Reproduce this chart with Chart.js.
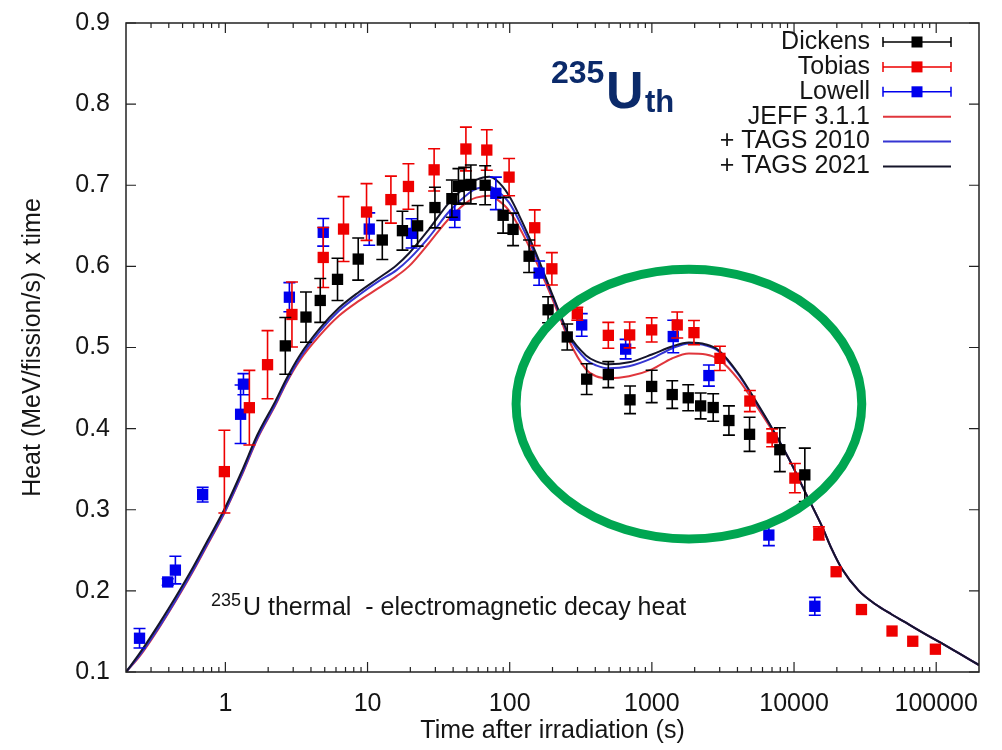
<!DOCTYPE html>
<html>
<head>
<meta charset="utf-8">
<script src="https://cdn.jsdelivr.net/npm/chart.js@4.4.0/dist/chart.umd.min.js"></script>
<style>
  html, body { margin: 0; padding: 0; background: #ffffff; }
  #wrap { width: 1002px; height: 750px; }
</style>
</head>
<body>
<div id="wrap"><canvas id="c" width="1002" height="750"></canvas></div>
<script>
// ---------------- DATA ----------------
const xTickValues = [1, 10, 100, 1000, 10000, 100000];
const xTickLabels = ['1', '10', '100', '1000', '10000', '100000'];
const yTickValues = [0.1, 0.2, 0.3, 0.4, 0.5, 0.6, 0.7, 0.8, 0.9];
const yTickLabels = ['0.1', '0.2', '0.3', '0.4', '0.5', '0.6', '0.7', '0.8', '0.9'];

// Dickens (black squares)
const dickensX = [2.64, 3.69, 4.65, 6.15, 8.6, 12.7, 17.6, 22.5, 29.8, 39.2, 43.6, 47.8, 53.3, 67.2, 89.9, 105.6, 136.9, 186.2, 254, 348, 494, 702, 997, 1391, 1802, 2203, 2700, 3483, 4866, 7943, 11910];
const dickensY = [0.502, 0.5375, 0.558, 0.584, 0.609, 0.6325, 0.644, 0.650, 0.6725, 0.6835, 0.6985, 0.700, 0.701, 0.700, 0.663, 0.6456, 0.6125, 0.5465, 0.513, 0.461, 0.4666, 0.4355, 0.452, 0.442, 0.438, 0.428, 0.426, 0.410, 0.393, 0.374, 0.343];
const dickensErr = [0.035, 0.031, 0.027, 0.026, 0.026, 0.024, 0.024, 0.025, 0.025, 0.023, 0.022, 0.022, 0.024, 0.024, 0.022, 0.020, 0.020, 0.016, 0.016, 0.019, 0.016, 0.017, 0.020, 0.017, 0.016, 0.016, 0.017, 0.018, 0.021, 0.027, 0.033];

// Tobias (red squares)
const tobiasX = [0.984, 1.475, 1.98, 2.94, 4.88, 6.78, 9.84, 14.6, 19.4, 29.4, 49.2, 69.0, 99, 150, 198, 299, 494, 698, 997, 1508, 1977, 3011, 4890, 7015, 10140, 14940, 19770, 29800, 48900, 68400, 98700];
const tobiasY = [0.347, 0.4258, 0.4788, 0.5407, 0.611, 0.646, 0.667, 0.6823, 0.6985, 0.719, 0.7447, 0.7434, 0.710, 0.6476, 0.597, 0.5416, 0.515, 0.5155, 0.5217, 0.5278, 0.5183, 0.4866, 0.434, 0.3887, 0.339, 0.2709, 0.2236, 0.177, 0.1505, 0.1379, 0.1281];
const tobiasErr = [0.051, 0.046, 0.042, 0.040, 0.037, 0.040, 0.035, 0.029, 0.028, 0.026, 0.027, 0.025, 0.023, 0.022, 0.020, 0.008, 0.016, 0.016, 0.015, 0.016, 0.015, 0.015, 0.013, 0.011, 0.018, 0.008, 0, 0, 0, 0, 0];

// Lowell (blue squares)
const lowellX = [0.249, 0.393, 0.445, 0.692, 1.28, 1.34, 2.82, 4.88, 10.28, 20.4, 41.1, 79.9, 161, 321, 654, 1414, 2518, 6650, 14000];
const lowellY = [0.1416, 0.211, 0.2256, 0.3186, 0.4177, 0.4548, 0.562, 0.642, 0.646, 0.6407, 0.663, 0.690, 0.5917, 0.5278, 0.498, 0.5135, 0.4654, 0.2688, 0.181];
const lowellErr = [0.012, 0.004, 0.017, 0.009, 0.036, 0.013, 0.018, 0.017, 0.020, 0.018, 0.015, 0.020, 0.015, 0.014, 0.012, 0.020, 0.013, 0.013, 0.011];

// Calculated curves (shared time grid)
const curveX = [0.2, 0.25, 0.34, 0.445, 0.59, 0.76, 1.0, 1.32, 1.68, 2.25, 2.68, 3.3, 4.6, 6.3, 8.7, 12, 16, 19.6, 27, 37.5, 52, 58, 72, 80, 99, 122, 153, 189, 233, 261, 344, 405, 500, 690, 1000, 1384, 1823, 2400, 2960, 4094, 5390, 6980, 9190, 12100, 15700, 18400, 21700, 28500, 37600, 48700, 64100, 84400, 109000, 144000, 200000];
const jeffY = [0.1000, 0.1195, 0.1538, 0.1868, 0.2235, 0.2590, 0.2982, 0.3446, 0.3875, 0.4290, 0.4560, 0.4829, 0.5146, 0.5391, 0.5575, 0.5734, 0.5880, 0.6003, 0.6285, 0.6590, 0.6810, 0.6847, 0.6872, 0.6835, 0.6688, 0.6419, 0.6064, 0.5697, 0.5306, 0.5086, 0.4731, 0.4646, 0.4621, 0.4646, 0.4731, 0.4865, 0.4926, 0.4915, 0.4853, 0.4597, 0.4290, 0.3985, 0.3630, 0.3202, 0.2798, 0.2517, 0.2272, 0.2003, 0.1832, 0.1709, 0.1587, 0.1465, 0.1355, 0.1232, 0.1086];
const tags2010Y = [0.1000, 0.1208, 0.1550, 0.1880, 0.2247, 0.2602, 0.2994, 0.3458, 0.3887, 0.4302, 0.4572, 0.4853, 0.5195, 0.5452, 0.5648, 0.5819, 0.5954, 0.6089, 0.6358, 0.6676, 0.6908, 0.6957, 0.6982, 0.6945, 0.6785, 0.6493, 0.6125, 0.5734, 0.5343, 0.5135, 0.4853, 0.4780, 0.4743, 0.4768, 0.4865, 0.4988, 0.5049, 0.5025, 0.4951, 0.4658, 0.4327, 0.4009, 0.3630, 0.3202, 0.2798, 0.2517, 0.2272, 0.2003, 0.1832, 0.1709, 0.1587, 0.1465, 0.1355, 0.1232, 0.1086];
const tags2021Y = [0.1000, 0.1232, 0.1587, 0.1917, 0.2284, 0.2639, 0.3031, 0.3495, 0.3924, 0.4339, 0.4609, 0.4890, 0.5232, 0.5489, 0.5685, 0.5856, 0.6015, 0.6162, 0.6456, 0.6786, 0.7018, 0.7067, 0.7104, 0.7067, 0.6871, 0.6554, 0.6162, 0.5758, 0.5355, 0.5159, 0.4902, 0.4829, 0.4792, 0.4817, 0.4914, 0.5012, 0.5061, 0.5037, 0.4963, 0.4670, 0.4339, 0.4009, 0.3630, 0.3202, 0.2798, 0.2517, 0.2272, 0.2003, 0.1832, 0.1709, 0.1587, 0.1465, 0.1355, 0.1232, 0.1086];

// Highlight ellipse (bounding box in data coordinates)
const highlight = { xMin: 110.9, xMax: 29950, yMin: 0.2639, yMax: 0.5966 };

// ---------------- STYLE ----------------
const FONT = '"Liberation Sans", Arial, Helvetica, sans-serif';
const TXT = '#151515';
const NAVY = '#0b2a6a';

const pts = (xs, ys) => xs.map((x, i) => ({ x: x, y: ys[i] }));

function markerSet(label, xs, ys, errs, color) {
  return {
    label: label, data: pts(xs, ys), errors: errs, kind: 'marker',
    backgroundColor: color, borderColor: color, borderWidth: 0,
    pointStyle: 'rect', pointRadius: 8, pointHoverRadius: 8,
    showLine: false, order: 1
  };
}
function curveSet(label, ys, color, order) {
  return {
    label: label, data: pts(curveX, ys), kind: 'curve',
    borderColor: color, backgroundColor: color, borderWidth: 2,
    pointRadius: 0, pointHoverRadius: 0, showLine: true,
    cubicInterpolationMode: 'monotone', fill: false, order: order
  };
}

const datasets = [
  markerSet('Dickens', dickensX, dickensY, dickensErr, '#000000'),
  markerSet('Tobias', tobiasX, tobiasY, tobiasErr, '#ee0000'),
  markerSet('Lowell', lowellX, lowellY, lowellErr, '#0000ee'),
  curveSet('JEFF 3.1.1', jeffY, '#e0363c', 12),
  curveSet('+ TAGS 2010', tags2010Y, '#3535d2', 11),
  curveSet('+ TAGS 2021', tags2021Y, '#15152a', 10)
];

// ---------------- PLUGINS ----------------
const errorBarPlugin = {
  id: 'errorBars',
  afterDatasetDraw(chart, args) {
    const ds = chart.data.datasets[args.index];
    if (!ds.errors) return;
    const ys = chart.scales.y, ctx = chart.ctx, a = chart.chartArea;
    ctx.save();
    ctx.beginPath(); ctx.rect(a.left, a.top, a.right - a.left, a.bottom - a.top); ctx.clip();
    ctx.strokeStyle = ds.borderColor; ctx.lineWidth = 1.6;
    args.meta.data.forEach((p, i) => {
      const e = ds.errors[i];
      if (!e) return;
      const v = ds.data[i].y;
      const y1 = ys.getPixelForValue(v + e), y2 = ys.getPixelForValue(v - e);
      ctx.beginPath();
      ctx.moveTo(p.x, y1); ctx.lineTo(p.x, y2);
      ctx.moveTo(p.x - 6, y1); ctx.lineTo(p.x + 6, y1);
      ctx.moveTo(p.x - 6, y2); ctx.lineTo(p.x + 6, y2);
      ctx.stroke();
    });
    ctx.restore();
  }
};

const framePlugin = {
  id: 'frame',
  afterDatasetsDraw(chart) {
    const ctx = chart.ctx, a = chart.chartArea, xs = chart.scales.x, ys = chart.scales.y;
    ctx.save();
    ctx.strokeStyle = '#222'; ctx.lineWidth = 1.5;
    ctx.strokeRect(a.left, a.top, a.right - a.left, a.bottom - a.top);
    ctx.lineWidth = 1.2;
    ctx.beginPath();
    ys.ticks.forEach(t => {
      const y = ys.getPixelForValue(t.value);
      ctx.moveTo(a.left, y); ctx.lineTo(a.left + 10, y);
      ctx.moveTo(a.right, y); ctx.lineTo(a.right - 10, y);
    });
    xs.ticks.forEach(t => {
      const x = xs.getPixelForValue(t.value);
      ctx.moveTo(x, a.bottom); ctx.lineTo(x, a.bottom - 10);
      ctx.moveTo(x, a.top); ctx.lineTo(x, a.top + 10);
    });
    const minV = xs.min, maxV = xs.max;
    for (let e = -1; e <= 5; e++) {
      for (let m = 2; m <= 9; m++) {
        const v = m * Math.pow(10, e);
        if (v <= minV * 1.0001 || v >= maxV) continue;
        const x = xs.getPixelForValue(v);
        ctx.moveTo(x, a.bottom); ctx.lineTo(x, a.bottom - 5);
        ctx.moveTo(x, a.top); ctx.lineTo(x, a.top + 5);
      }
    }
    ctx.stroke();
    ctx.restore();
  }
};

const overlayPlugin = {
  id: 'overlay',
  afterDraw(chart) {
    const ctx = chart.ctx, xs = chart.scales.x, ys = chart.scales.y;
    ctx.save();
    // highlight ellipse
    const x1 = xs.getPixelForValue(highlight.xMin), x2 = xs.getPixelForValue(highlight.xMax);
    const y1 = ys.getPixelForValue(highlight.yMax), y2 = ys.getPixelForValue(highlight.yMin);
    ctx.strokeStyle = '#00a651'; ctx.lineWidth = 9;
    ctx.beginPath();
    ctx.ellipse((x1 + x2) / 2, (y1 + y2) / 2, (x2 - x1) / 2, (y2 - y1) / 2, 0, 0, Math.PI * 2);
    ctx.stroke();

    // legend
    const dsets = chart.data.datasets;
    const textRight = 870, sx0 = 883, sx1 = 951, sxm = 917;
    ctx.font = '25px ' + FONT; ctx.textAlign = 'right'; ctx.textBaseline = 'middle';
    dsets.forEach((d, i) => {
      const y = 42 + i * 24.9;
      ctx.fillStyle = TXT;
      ctx.fillText(d.label, textRight, y);
      ctx.strokeStyle = d.borderColor;
      if (d.kind === 'marker') {
        ctx.lineWidth = 1.5;
        ctx.beginPath();
        ctx.moveTo(sx0, y); ctx.lineTo(sx1, y);
        ctx.moveTo(sx0, y - 5); ctx.lineTo(sx0, y + 5);
        ctx.moveTo(sx1, y - 5); ctx.lineTo(sx1, y + 5);
        ctx.stroke();
        ctx.fillStyle = d.backgroundColor;
        ctx.fillRect(sxm - 5.5, y - 5.5, 11, 11);
      } else {
        ctx.lineWidth = 2;
        ctx.beginPath(); ctx.moveTo(sx0, y); ctx.lineTo(sx1, y); ctx.stroke();
      }
    });

    // big label 235U_th
    ctx.fillStyle = NAVY; ctx.textAlign = 'left'; ctx.textBaseline = 'alphabetic';
    ctx.font = 'bold 32px ' + FONT; ctx.fillText('235', 551, 83);
    ctx.font = 'bold 52px ' + FONT; ctx.fillText('U', 606, 108);
    ctx.font = 'bold 31px ' + FONT; ctx.fillText('th', 645, 112);

    // annotation text
    ctx.fillStyle = TXT;
    ctx.font = '18px ' + FONT; ctx.fillText('235', 211, 606);
    ctx.font = '25px ' + FONT; ctx.fillText('U thermal  - electromagnetic decay heat', 243, 615);
    ctx.restore();
  }
};

// ---------------- CHART ----------------
new Chart(document.getElementById('c').getContext('2d'), {
  type: 'scatter',
  data: { datasets: datasets },
  options: {
    responsive: false,
    animation: false,
    devicePixelRatio: 1,
    layout: { padding: { top: 18, right: 23, left: 0, bottom: 0 } },
    plugins: { legend: { display: false }, tooltip: { enabled: false } },
    scales: {
      x: {
        type: 'logarithmic', min: 0.2, max: 200000,
        grid: { display: false }, border: { display: false },
        afterBuildTicks: s => { s.ticks = xTickValues.map(v => ({ value: v })); },
        afterFit: s => { s.height = 78; },
        ticks: {
          autoSkip: false, maxRotation: 0, padding: 9, color: TXT,
          font: { family: FONT, size: 25 },
          callback: (v, i) => xTickLabels[i]
        },
        title: {
          display: true, text: 'Time after irradiation (s)', color: TXT,
          font: { family: FONT, size: 25, lineHeight: 1 }, padding: { top: 0, bottom: 6 }
        }
      },
      y: {
        type: 'linear', min: 0.1, max: 0.9,
        grid: { display: false }, border: { display: false },
        afterBuildTicks: s => { s.ticks = yTickValues.map(v => ({ value: v })); },
        afterFit: s => { s.width = 126; },
        ticks: {
          autoSkip: false, padding: 8, color: TXT,
          font: { family: FONT, size: 25 },
          callback: (v, i) => yTickLabels[i]
        },
        title: {
          display: true, text: 'Heat (MeV/fission/s) x time', color: TXT,
          font: { family: FONT, size: 25, lineHeight: 1 }, padding: { top: 21, bottom: 0 }
        }
      }
    }
  },
  plugins: [errorBarPlugin, framePlugin, overlayPlugin]
});
</script>
</body>
</html>
